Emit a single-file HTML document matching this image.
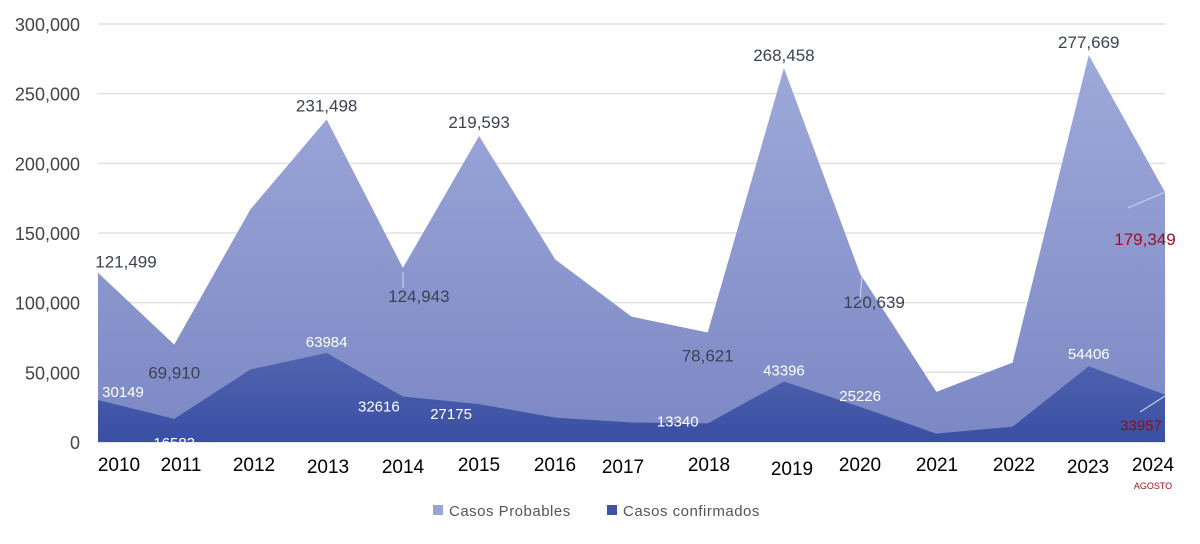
<!DOCTYPE html>
<html><head><meta charset="utf-8"><style>
body{margin:0;background:#fff;}
svg{display:block;font-family:"Liberation Sans",sans-serif;}
</style></head><body>
<svg id="c" width="1200" height="544">
<defs>
<linearGradient id="gp" x1="0" y1="0" x2="0" y2="1"><stop offset="0" stop-color="#9ea9da"/><stop offset="1" stop-color="#7c88c4"/></linearGradient>
<linearGradient id="gc" x1="0" y1="0" x2="0" y2="1"><stop offset="0" stop-color="#5164b0"/><stop offset="1" stop-color="#3a4fa3"/></linearGradient>
</defs>
<g id="grid"></g>
<g id="areas"></g>
<g id="labels"></g>
<g>
<rect x="433" y="505" width="10" height="10" fill="#98a3d6"/>
<text x="449" y="516" font-size="15" fill="#555" letter-spacing="0.5">Casos Probables</text>
<rect x="607" y="505" width="10" height="10" fill="#3f54a6"/>
<text x="623" y="516" font-size="15" fill="#555" letter-spacing="0.5">Casos confirmados</text>
</g>
</svg>
<script>
const years=["2010","2011","2012","2013","2014","2015","2016","2017","2018","2019","2020","2021","2022","2023","2024"];
const probables=[121499,69910,167000,231498,124943,219593,131000,90000,78621,268458,120639,36000,57000,277669,179349];
const confirmados=[30149,16583,52000,63984,32616,27175,17500,14000,13340,43396,25226,6000,11000,54406,33957];
const yTicks=[0,50000,100000,150000,200000,250000,300000];
const probLabels=["121,499","69,910","","231,498","124,943","219,593","","","78,621","268,458","120,639","","","277,669","179,349"];
const confLabels=["30149","16583","","63984","32616","27175","","","13340","43396","25226","","","54406","33957"];
const NS="http://www.w3.org/2000/svg";
const x0=98,x1=1165,y0=442,y1=24;
const X=i=>x0+(x1-x0)*i/(years.length-1);
const Y=v=>y0-(y0-y1)*v/300000;
function mk(t,a,p){const e=document.createElementNS(NS,t);for(const k in a)e.setAttribute(k,a[k]);p.appendChild(e);return e;}
const grid=document.getElementById('grid'),areas=document.getElementById('areas'),lab=document.getElementById('labels');
yTicks.forEach(v=>{
 const l=mk('line',{x1:x0,x2:x1,y1:Y(v),y2:Y(v),stroke:'#e0e0e0','stroke-width':1.5},grid);
 
 
 const t=mk('text',{x:80,y:Y(v)+7,'text-anchor':'end','font-size':18,fill:'#444'},grid);
 t.textContent=v.toLocaleString('en-US');
 
 
});
function area(vals,fill,name){
 let d='M'+X(0)+','+y0;
 vals.forEach((v,i)=>d+=' L'+X(i)+','+Y(v));
 d+=' L'+X(vals.length-1)+','+y0+' Z';
 const p=mk('path',{d:d,fill:fill},areas);
 
 
}
area(probables,'url(#gp)','area-casos-probables');
area(confirmados,'url(#gc)','area-casos-confirmados');
const xlabC=[119,181,254,328,403,479,555,623,709,792,860,937,1014,1088,1153];
const xlabDy=[0,0,0,2,2,0,0,2,0,4,0,0,0,2,0];
years.forEach((y,i)=>{
 const t=mk('text',{x:xlabC[i],y:471+xlabDy[i],'text-anchor':'middle','font-size':19,fill:'#000'},lab);
 t.textContent=y;
 
 
});
const ag=mk('text',{x:1153,y:489,'text-anchor':'middle','font-size':9,fill:'#a01020'},lab);
ag.textContent='AGOSTO';


const pOff=[[28,-5],[0,34],[0,0],[0,-8],[16,34],[0,-8],[0,0],[0,0],[0,29],[0,-7],[14,34],[0,0],[0,0],[0,-7],[-20,53]];
const cOff=[[25,-3],[0,29],[0,0],[0,-6],[-24,15],[-28,15],[0,0],[0,0],[-30,3],[0,-6],[0,-6],[0,0],[0,0],[0,-7],[-24,36]];
probables.forEach((v,i)=>{
 if(!probLabels[i])return;
 const t=mk('text',{x:X(i)+pOff[i][0],y:Y(v)+pOff[i][1],'text-anchor':'middle','font-size':17,fill:i==14?'#a01020':'#3d4154'},lab);
 t.textContent=probLabels[i];
 
 
});
confirmados.forEach((v,i)=>{
 if(!confLabels[i])return;
 const t=mk('text',{x:X(i)+cOff[i][0],y:Y(v)+cOff[i][1],'text-anchor':'middle','font-size':15,fill:i==14?'#8a1020':'#fff'},lab);
 t.textContent=confLabels[i];
 
 
});
[[1128,208,1165,192],[1140,412,1165,396],[860,300,862,276],[403,288,403,272]].forEach(c=>{
 const l=mk('line',{x1:c[0],y1:c[1],x2:c[2],y2:c[3],stroke:'#c8cdea','stroke-width':1.2},lab);
 
 
});
</script>
</body></html>
